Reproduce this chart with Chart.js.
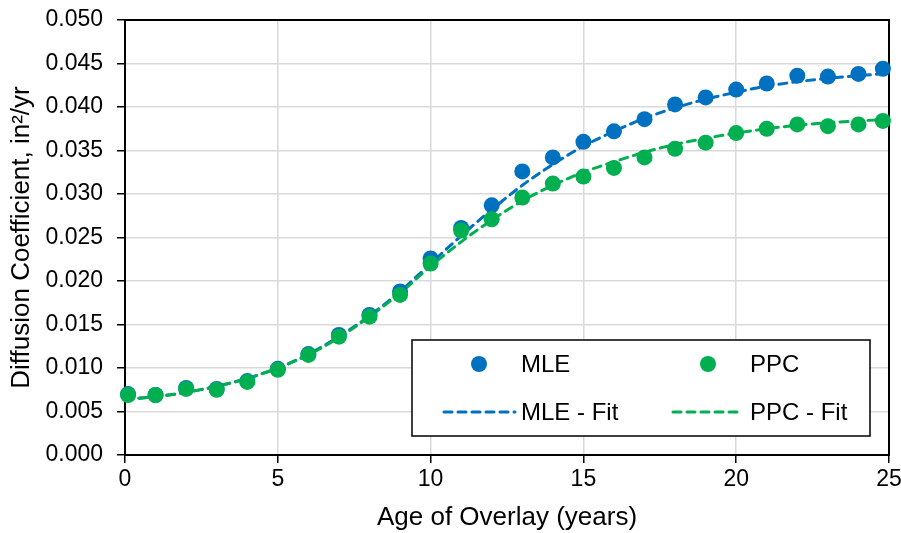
<!DOCTYPE html>
<html lang="en">
<head>
    <meta charset="UTF-8">
    <title>Diffusion Coefficient vs Age of Overlay</title>
    <script src="https://cdn.jsdelivr.net/npm/chart.js"></script>
    <style>
        html, body {
            margin: 0;
            padding: 0;
            background: #ffffff;
        }
        #wrap {
            width: 901px;
            height: 533px;
        }
    </style>
</head>
<body>
    <div id="wrap"><canvas id="chart" width="901" height="533"></canvas></div>

    <script>
        // measured points
        const ages = [0.1, 1, 2, 3, 4, 5, 6, 7, 8, 9, 10, 11, 12, 13, 14, 15, 16, 17, 18, 19, 20, 21, 22, 23, 24, 24.8];
        const mleValues = [0.0070, 0.0069, 0.0077, 0.0076, 0.0085, 0.0099, 0.0116, 0.0138, 0.0161, 0.0188, 0.0226, 0.0261, 0.0287, 0.0326, 0.0342, 0.0360, 0.0372, 0.0386, 0.0403, 0.0411, 0.0420, 0.0427, 0.0436, 0.0435, 0.0438, 0.0444];
        const ppcValues = [0.0069, 0.0069, 0.0076, 0.0075, 0.0084, 0.0098, 0.0115, 0.0136, 0.0159, 0.0184, 0.0220, 0.0258, 0.0271, 0.0296, 0.0312, 0.0320, 0.0330, 0.0342, 0.0352, 0.0359, 0.0370, 0.0375, 0.0380, 0.0378, 0.0380, 0.0384];

        // fitted curves
        const fitAges = [0, 1, 2, 3, 4, 5, 6, 7, 8, 9, 10, 11, 12, 13, 14, 15, 16, 17, 18, 19, 20, 21, 22, 23, 24, 25];
        const mleFit = [0.0064, 0.0067, 0.0072, 0.0079, 0.0088, 0.0100, 0.0116, 0.0136, 0.0160, 0.0188, 0.0220, 0.0252, 0.0282, 0.0310, 0.0334, 0.0355, 0.0372, 0.0387, 0.0399, 0.0409, 0.0417, 0.0424, 0.0429, 0.0433, 0.0436, 0.0439];
        const ppcFit = [0.0064, 0.0067, 0.0072, 0.0079, 0.0088, 0.0100, 0.0115, 0.0135, 0.0159, 0.0186, 0.0217, 0.0245, 0.0270, 0.0292, 0.0310, 0.0325, 0.0337, 0.0348, 0.0357, 0.0364, 0.0370, 0.0375, 0.0379, 0.0382, 0.0384, 0.0386];

        const seriesNames = ['MLE', 'PPC', 'MLE - Fit', 'PPC - Fit'];
        const BLUE = '#0070C0';
        const GREEN = '#00B050';
        const FONT = "'Liberation Sans', Arial, sans-serif";

        function toPoints(xs, ys) {
            return xs.map((x, i) => ({ x: x, y: ys[i] }));
        }

        // black frame around plot area
        const framePlugin = {
            id: 'frame',
            beforeDatasetsDraw(chart) {
                const { ctx, chartArea: a } = chart;
                ctx.save();
                ctx.strokeStyle = '#000000';
                ctx.lineWidth = 2;
                ctx.strokeRect(a.left, a.top, a.right - a.left, a.bottom - a.top);
                ctx.restore();
            }
        };

        // legend box inside the plot, two columns
        const legendPlugin = {
            id: 'boxLegend',
            afterDraw(chart) {
                const ctx = chart.ctx;
                ctx.save();
                ctx.fillStyle = '#ffffff';
                ctx.fillRect(412, 340, 458, 96);
                ctx.strokeStyle = '#000000';
                ctx.lineWidth = 1.5;
                ctx.strokeRect(412, 340, 458, 96);

                ctx.font = '24px ' + FONT;
                ctx.textBaseline = 'middle';
                ctx.fillStyle = '#000000';

                // markers
                [[479, BLUE, 0], [708, GREEN, 1]].forEach(([x, c, i]) => {
                    ctx.beginPath();
                    ctx.arc(x, 364, 8, 0, Math.PI * 2);
                    ctx.fillStyle = c;
                    ctx.fill();
                    ctx.fillStyle = '#000000';
                    ctx.fillText(seriesNames[i], x + 42, 365);
                });

                // fit lines
                [[444, 515, BLUE, 2, 521], [673, 743, GREEN, 3, 750]].forEach(([x1, x2, c, i, tx]) => {
                    ctx.beginPath();
                    ctx.setLineDash([8, 6]);
                    ctx.lineCap = 'round';
                    ctx.lineWidth = 3;
                    ctx.strokeStyle = c;
                    ctx.moveTo(x1, 412);
                    ctx.lineTo(x2, 412);
                    ctx.stroke();
                    ctx.setLineDash([]);
                    ctx.fillStyle = '#000000';
                    ctx.fillText(seriesNames[i], tx, 413);
                });
                ctx.restore();
            }
        };

        new Chart(document.getElementById('chart').getContext('2d'), {
            type: 'scatter',
            data: {
                datasets: [
                    {
                        label: seriesNames[1],
                        data: toPoints(ages, ppcValues),
                        backgroundColor: GREEN,
                        borderColor: GREEN,
                        pointRadius: 8,
                        borderWidth: 0,
                        clip: false,
                        order: 1
                    },
                    {
                        label: seriesNames[0],
                        data: toPoints(ages, mleValues),
                        backgroundColor: BLUE,
                        borderColor: BLUE,
                        pointRadius: 8,
                        borderWidth: 0,
                        clip: false,
                        order: 2
                    },
                    {
                        label: seriesNames[3],
                        data: toPoints(fitAges, ppcFit),
                        showLine: true,
                        borderColor: GREEN,
                        borderWidth: 3,
                        borderDash: [8, 6],
                        borderCapStyle: 'round',
                        cubicInterpolationMode: 'monotone',
                        pointRadius: 0,
                        clip: false,
                        order: 3
                    },
                    {
                        label: seriesNames[2],
                        data: toPoints(fitAges, mleFit),
                        showLine: true,
                        borderColor: BLUE,
                        borderWidth: 3,
                        borderDash: [8, 6],
                        borderCapStyle: 'round',
                        cubicInterpolationMode: 'monotone',
                        pointRadius: 0,
                        clip: false,
                        order: 4
                    }
                ]
            },
            options: {
                responsive: false,
                animation: false,
                layout: {
                    padding: { left: 0, right: 12, top: 20, bottom: 0 }
                },
                plugins: {
                    legend: { display: false },
                    tooltip: { enabled: false }
                },
                scales: {
                    x: {
                        type: 'linear',
                        min: 0,
                        max: 25,
                        afterFit(scale) {
                            scale.height = 78;
                            scale.paddingLeft = 0;
                            scale.paddingRight = 0;
                        },
                        ticks: {
                            stepSize: 5,
                            color: '#000000',
                            font: { family: FONT, size: 23 },
                            padding: 3
                        },
                        grid: {
                            color: '#d9d9d9',
                            lineWidth: 1.5,
                            tickColor: '#000000',
                            tickLength: 8
                        },
                        border: { color: '#000000', width: 2 },
                        title: {
                            display: true,
                            text: 'Age of Overlay (years)',
                            color: '#000000',
                            font: { family: FONT, size: 26 },
                            padding: { top: 2, bottom: 0 }
                        }
                    },
                    y: {
                        min: 0,
                        max: 0.05,
                        afterFit(scale) {
                            scale.width = 125;
                            scale.paddingTop = 0;
                            scale.paddingBottom = 0;
                        },
                        ticks: {
                            stepSize: 0.005,
                            color: '#000000',
                            font: { family: FONT, size: 23 },
                            padding: 14,
                            callback: v => v.toFixed(3)
                        },
                        grid: {
                            color: '#d9d9d9',
                            lineWidth: 1.5,
                            tickColor: '#000000',
                            tickLength: 8
                        },
                        border: { color: '#000000', width: 2 },
                        title: {
                            display: true,
                            text: 'Diffusion Coefficient, in²/yr',
                            color: '#000000',
                            font: { family: FONT, size: 26 },
                            padding: { top: 6, bottom: 0 }
                        }
                    }
                }
            },
            plugins: [framePlugin, legendPlugin]
        });
    </script>
</body>
</html>
